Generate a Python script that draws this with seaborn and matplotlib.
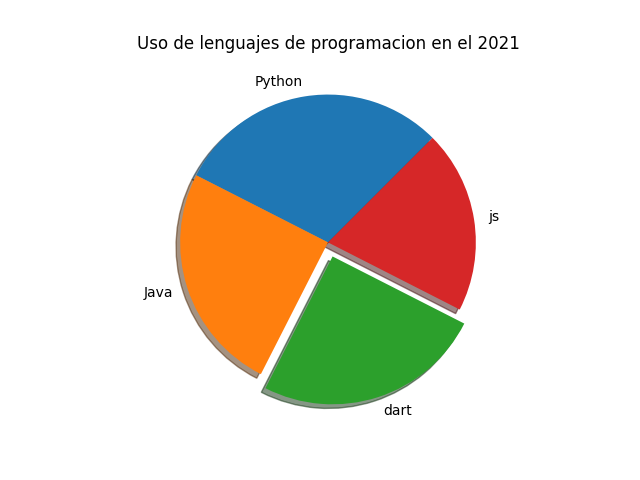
import seaborn as sns
import matplotlib
matplotlib.use("Agg")
import matplotlib.pyplot as plt

lenguajes = ["Python", "Java", "dart", "js"]
uso = [30, 25, 25, 20]
separacion = [0, 0, 0.1, 0]

colores = sns.color_palette("tab10", 4)

fig, ax = plt.subplots(figsize=(6.4, 4.8), dpi=100)
ax.pie(uso, labels=lenguajes, explode=separacion, colors=colores,
       shadow=True, startangle=45)
ax.set_title("Uso de lenguajes de programacion en el 2021")
fig.savefig("out.png")
